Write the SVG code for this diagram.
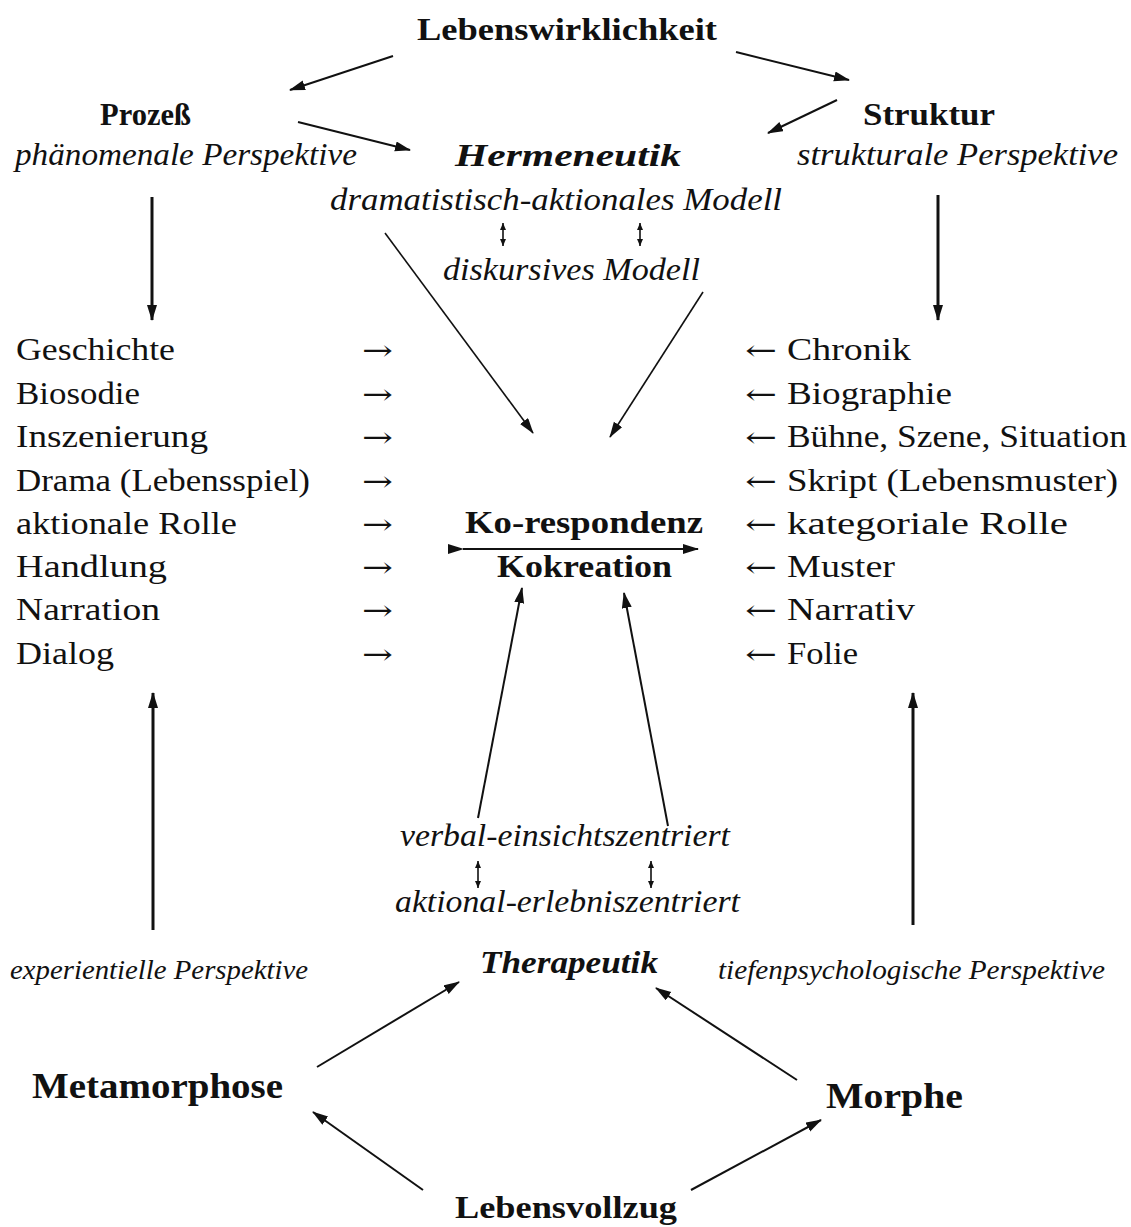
<svg xmlns="http://www.w3.org/2000/svg" width="1131" height="1227" viewBox="0 0 1131 1227">
<style>
text{font-family:"Liberation Serif","DejaVu Serif",serif;fill:#111}
.b{font-weight:bold;font-size:32px}
.bb{font-weight:bold;font-size:36px}
.i{font-style:italic;font-size:31px}
.bi{font-style:italic;font-weight:bold;font-size:32px}
.s{font-style:italic;font-size:28px}
.r{font-size:32px}
.ar{font-family:"DejaVu Serif",serif;font-size:28px}
.c{fill:none;stroke:#111;stroke-width:2}
.t{fill:none;stroke:#111;stroke-width:3}
.d{fill:none;stroke:#111;stroke-width:1.6}
</style>
<defs>
<marker id="ah" markerUnits="userSpaceOnUse" markerWidth="18" markerHeight="12" refX="15" refY="5" orient="auto">
<path d="M0,0 L16,5 L0,10 Z" fill="#111"/>
</marker>
<marker id="sh" markerUnits="userSpaceOnUse" markerWidth="8" markerHeight="8" refX="7" refY="3" orient="auto-start-reverse">
<path d="M0,0 L7,3 L0,6 Z" fill="#111"/>
</marker>
</defs>
<rect width="1131" height="1227" fill="#fff"/>
<g id="connectors">
<path class="c" d="M393,56 L290,90" marker-end="url(#ah)"/>
<path class="c" d="M736,52 L849,80" marker-end="url(#ah)"/>
<path class="c" d="M298,122 L410,150" marker-end="url(#ah)"/>
<path class="c" d="M837,100 L768,133" marker-end="url(#ah)"/>
<path class="t" d="M152,197 L152,320" marker-end="url(#ah)"/>
<path class="t" d="M938,195 L938,320" marker-end="url(#ah)"/>
<path class="d" d="M385,233 L533,433" marker-end="url(#ah)"/>
<path class="d" d="M703,292 L610,437" marker-end="url(#ah)"/>
<path class="d" d="M503,223 L503,246" marker-start="url(#sh)" marker-end="url(#sh)"/>
<path class="d" d="M640,223 L640,246" marker-start="url(#sh)" marker-end="url(#sh)"/>
<path class="c" d="M463,549 L698,549" marker-start="url(#ah)" marker-end="url(#ah)"/>
<path class="c" d="M478,818 L522,588" marker-end="url(#ah)"/>
<path class="c" d="M668,826 L624,593" marker-end="url(#ah)"/>
<path class="t" d="M153,930 L153,693" marker-end="url(#ah)"/>
<path class="t" d="M913,925 L913,693" marker-end="url(#ah)"/>
<path class="d" d="M478,861 L478,888" marker-start="url(#sh)" marker-end="url(#sh)"/>
<path class="d" d="M651,861 L651,888" marker-start="url(#sh)" marker-end="url(#sh)"/>
<path class="c" d="M317,1067 L459,982" marker-end="url(#ah)"/>
<path class="c" d="M797,1080 L656,988" marker-end="url(#ah)"/>
<path class="c" d="M423,1190 L313,1112" marker-end="url(#ah)"/>
<path class="c" d="M691,1190 L821,1120" marker-end="url(#ah)"/>
</g>
<g id="lebenswirklichkeit"><text class="b" x="417" y="40" textLength="300" lengthAdjust="spacingAndGlyphs">Lebenswirklichkeit</text></g>
<g id="prozess">
<text class="b" x="100" y="125" textLength="91" lengthAdjust="spacingAndGlyphs">Prozeß</text>
<text class="i" x="15" y="165" textLength="342" lengthAdjust="spacingAndGlyphs">phänomenale Perspektive</text>
</g>
<g id="struktur">
<text class="b" x="863" y="125" textLength="132" lengthAdjust="spacingAndGlyphs">Struktur</text>
<text class="i" x="797" y="165" textLength="321" lengthAdjust="spacingAndGlyphs">strukturale Perspektive</text>
</g>
<g id="hermeneutik">
<text class="bi" x="455" y="166" textLength="226" lengthAdjust="spacingAndGlyphs">Hermeneutik</text>
<text class="i" x="330" y="210" textLength="452" lengthAdjust="spacingAndGlyphs">dramatistisch-aktionales Modell</text>
<text class="i" x="443" y="280" textLength="257" lengthAdjust="spacingAndGlyphs">diskursives Modell</text>
</g>
<g id="prozess-liste">
<text class="r" x="16" y="360" textLength="159" lengthAdjust="spacingAndGlyphs">Geschichte</text>
<text class="r" x="16" y="404" textLength="124" lengthAdjust="spacingAndGlyphs">Biosodie</text>
<text class="r" x="16" y="447" textLength="192" lengthAdjust="spacingAndGlyphs">Inszenierung</text>
<text class="r" x="16" y="491" textLength="294" lengthAdjust="spacingAndGlyphs">Drama (Lebensspiel)</text>
<text class="r" x="16" y="534" textLength="221" lengthAdjust="spacingAndGlyphs">aktionale Rolle</text>
<text class="r" x="16" y="577" textLength="151" lengthAdjust="spacingAndGlyphs">Handlung</text>
<text class="r" x="16" y="620" textLength="144" lengthAdjust="spacingAndGlyphs">Narration</text>
<text class="r" x="16" y="664" textLength="98" lengthAdjust="spacingAndGlyphs">Dialog</text>
<text class="ar" x="362" y="360" textLength="31" lengthAdjust="spacingAndGlyphs">→</text>
<text class="ar" x="362" y="404" textLength="31" lengthAdjust="spacingAndGlyphs">→</text>
<text class="ar" x="362" y="447" textLength="31" lengthAdjust="spacingAndGlyphs">→</text>
<text class="ar" x="362" y="491" textLength="31" lengthAdjust="spacingAndGlyphs">→</text>
<text class="ar" x="362" y="534" textLength="31" lengthAdjust="spacingAndGlyphs">→</text>
<text class="ar" x="362" y="577" textLength="31" lengthAdjust="spacingAndGlyphs">→</text>
<text class="ar" x="362" y="620" textLength="31" lengthAdjust="spacingAndGlyphs">→</text>
<text class="ar" x="362" y="664" textLength="31" lengthAdjust="spacingAndGlyphs">→</text>
</g>
<g id="struktur-liste">
<text class="ar" x="745" y="360" textLength="32" lengthAdjust="spacingAndGlyphs">←</text>
<text class="ar" x="745" y="404" textLength="32" lengthAdjust="spacingAndGlyphs">←</text>
<text class="ar" x="745" y="447" textLength="32" lengthAdjust="spacingAndGlyphs">←</text>
<text class="ar" x="745" y="491" textLength="32" lengthAdjust="spacingAndGlyphs">←</text>
<text class="ar" x="745" y="534" textLength="32" lengthAdjust="spacingAndGlyphs">←</text>
<text class="ar" x="745" y="577" textLength="32" lengthAdjust="spacingAndGlyphs">←</text>
<text class="ar" x="745" y="620" textLength="32" lengthAdjust="spacingAndGlyphs">←</text>
<text class="ar" x="745" y="664" textLength="32" lengthAdjust="spacingAndGlyphs">←</text>
<text class="r" x="787" y="360" textLength="124" lengthAdjust="spacingAndGlyphs">Chronik</text>
<text class="r" x="787" y="404" textLength="165" lengthAdjust="spacingAndGlyphs">Biographie</text>
<text class="r" x="787" y="447" textLength="340" lengthAdjust="spacingAndGlyphs">Bühne, Szene, Situation</text>
<text class="r" x="787" y="491" textLength="331" lengthAdjust="spacingAndGlyphs">Skript (Lebensmuster)</text>
<text class="r" x="787" y="534" textLength="281" lengthAdjust="spacingAndGlyphs">kategoriale Rolle</text>
<text class="r" x="787" y="577" textLength="108" lengthAdjust="spacingAndGlyphs">Muster</text>
<text class="r" x="787" y="620" textLength="128" lengthAdjust="spacingAndGlyphs">Narrativ</text>
<text class="r" x="787" y="664" textLength="71" lengthAdjust="spacingAndGlyphs">Folie</text>
</g>
<g id="korrespondenz">
<text class="b" x="465" y="533" textLength="238" lengthAdjust="spacingAndGlyphs">Ko-respondenz</text>
<text class="b" x="497" y="577" textLength="175" lengthAdjust="spacingAndGlyphs">Kokreation</text>
</g>
<g id="therapeutik">
<text class="i" x="400" y="846" textLength="330" lengthAdjust="spacingAndGlyphs">verbal-einsichtszentriert</text>
<text class="i" x="395" y="912" textLength="345" lengthAdjust="spacingAndGlyphs">aktional-erlebniszentriert</text>
<text class="bi" x="480" y="973" textLength="178" lengthAdjust="spacingAndGlyphs">Therapeutik</text>
</g>
<g id="experientiell"><text class="s" x="10" y="979" textLength="298" lengthAdjust="spacingAndGlyphs">experientielle Perspektive</text></g>
<g id="tiefenpsychologisch"><text class="s" x="718" y="979" textLength="387" lengthAdjust="spacingAndGlyphs">tiefenpsychologische Perspektive</text></g>
<g id="metamorphose"><text class="bb" x="32" y="1098" textLength="251" lengthAdjust="spacingAndGlyphs">Metamorphose</text></g>
<g id="morphe"><text class="bb" x="826" y="1108" textLength="137" lengthAdjust="spacingAndGlyphs">Morphe</text></g>
<g id="lebensvollzug"><text class="b" x="455" y="1218" textLength="222" lengthAdjust="spacingAndGlyphs">Lebensvollzug</text></g>
</svg>
